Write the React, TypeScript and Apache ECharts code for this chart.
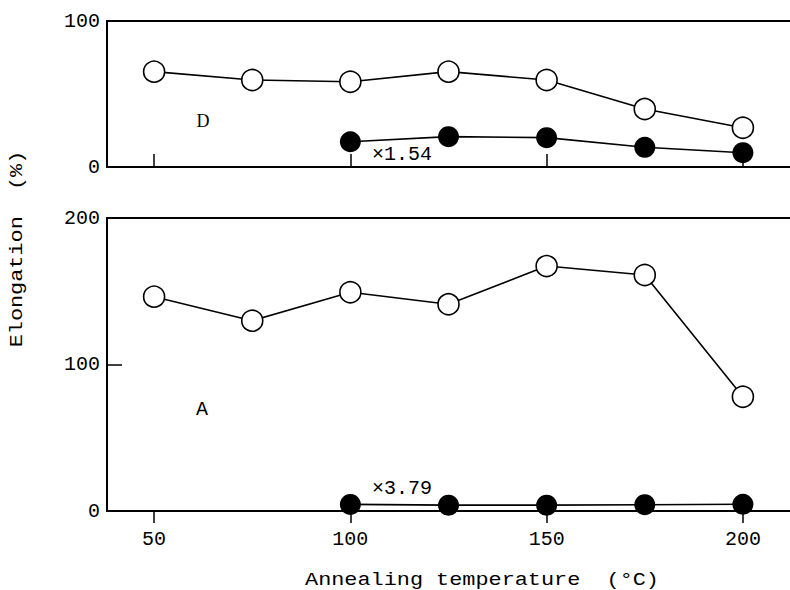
import React, { useEffect, useRef } from "react";
import * as echarts from "echarts";

const xValues = [50, 75, 100, 125, 150, 175, 200];
const dOpen = [65.3, 59.6, 58.4, 65.3, 59.6, 39.7, 26.9];
const filledX = [100, 125, 150, 175, 200];
const dFilled = [17.3, 20.8, 20.1, 13.5, 9.8];
const aOpen = [146.3, 129.9, 149.3, 141.1, 167.2, 161.1, 78];
const aFilled = [4.5, 4, 4, 4.3, 4.6];
const xTicks = [50, 100, 150, 200];

const MONO = "'Liberation Mono', 'DejaVu Sans Mono', monospace";

export default function App() {
  const ref = useRef<HTMLDivElement>(null);
  useEffect(() => {
    if (!ref.current) return;
    const chart = echarts.init(ref.current, null, { renderer: "svg" });
    const zip = (xs: number[], ys: number[]) => xs.map((x, i) => [x, ys[i]]);
    const lineStyle = { color: "#000", width: 2 };
    const baseX = {
      type: "value" as const,
      min: 38,
      max: 212,
      splitLine: { show: false },
    };
    const openSeries = (data: number[][], xi: number, yi: number) => ({
      type: "line",
      xAxisIndex: xi,
      yAxisIndex: yi,
      data,
      symbol: "circle",
      symbolSize: 21,
      itemStyle: { color: "#fff", borderColor: "#000", borderWidth: 1.6 },
      lineStyle: { color: "#000", width: 1.6 },
      z: 3,
    });
    const filledSeries = (data: number[][], xi: number, yi: number) => ({
      type: "line",
      xAxisIndex: xi,
      yAxisIndex: yi,
      data,
      symbol: "circle",
      symbolSize: 21,
      itemStyle: { color: "#000", borderColor: "#000", borderWidth: 0 },
      lineStyle: { color: "#000", width: 1.6 },
      z: 3,
    });
    const tickFont = { color: "#000", fontFamily: MONO, fontSize: 20 };
    chart.setOption({
      animation: false,
      backgroundColor: "#fff",
      grid: [
        { left: 107, right: 0, top: 21, height: 146 },
        { left: 107, right: 0, top: 218, height: 293 },
      ],
      xAxis: [
        {
          ...baseX,
          gridIndex: 0,
          position: "bottom",
          axisLine: { onZero: false, lineStyle },
          axisTick: { inside: true, length: 13, customValues: xTicks, lineStyle: { color: "#000", width: 1.5 } },
          axisLabel: { show: false },
        },
        {
          ...baseX,
          gridIndex: 0,
          position: "top",
          axisLine: { onZero: false, lineStyle },
          axisTick: { show: false },
          axisLabel: { show: false },
        },
        {
          ...baseX,
          gridIndex: 1,
          position: "bottom",
          axisLine: { onZero: false, lineStyle },
          axisTick: { inside: false, length: 12, customValues: xTicks, lineStyle: { color: "#000", width: 1.5 } },
          axisLabel: { customValues: xTicks, margin: 18, ...tickFont },
        },
        {
          ...baseX,
          gridIndex: 1,
          position: "top",
          axisLine: { onZero: false, lineStyle },
          axisTick: { show: false },
          axisLabel: { show: false },
        },
      ],
      yAxis: [
        {
          type: "value",
          gridIndex: 0,
          min: 0,
          max: 100,
          interval: 100,
          axisLine: { show: true, onZero: false, lineStyle },
          axisTick: { show: false },
          axisLabel: { margin: 7, ...tickFont },
          splitLine: { show: false },
        },
        {
          type: "value",
          gridIndex: 1,
          min: 0,
          max: 200,
          interval: 100,
          axisLine: { show: true, onZero: false, lineStyle },
          axisTick: { show: true, inside: true, length: 15, lineStyle: { color: "#000", width: 1.5 } },
          axisLabel: { margin: 7, ...tickFont },
          splitLine: { show: false },
        },
      ],
      series: [
        openSeries(zip(xValues, dOpen), 0, 0),
        filledSeries(zip(filledX, dFilled), 0, 0),
        openSeries(zip(xValues, aOpen), 2, 1),
        filledSeries(zip(filledX, aFilled), 2, 1),
      ],
      graphic: [
        {
          type: "text",
          x: 203,
          y: 121,
          style: { text: "D", fontFamily: "'Liberation Serif', serif", fontSize: 18, fill: "#000", align: "center", verticalAlign: "middle" },
        },
        {
          type: "text",
          x: 202,
          y: 409,
          style: { text: "A", fontFamily: MONO, fontSize: 20, fill: "#000", align: "center", verticalAlign: "middle" },
        },
        {
          type: "text",
          x: 372,
          y: 154,
          z: 10,
          style: { text: "×1.54", fontFamily: MONO, fontSize: 20, fill: "#000", align: "left", verticalAlign: "middle" },
        },
        {
          type: "text",
          x: 372,
          y: 488,
          z: 10,
          style: { text: "×3.79", fontFamily: MONO, fontSize: 20, fill: "#000", align: "left", verticalAlign: "middle" },
        },
        {
          type: "text",
          x: 482,
          y: 580,
          scaleX: 1.15,
          style: { text: "Annealing temperature  (°C)", fontFamily: MONO, fontSize: 19, fill: "#000", align: "center", verticalAlign: "middle" },
        },
        {
          type: "text",
          x: 17,
          y: 249,
          rotation: Math.PI / 2,
          scaleX: 1.15,
          style: { text: "Elongation  (%)", fontFamily: MONO, fontSize: 19, fill: "#000", align: "center", verticalAlign: "middle" },
        },
      ],
    });
    return () => chart.dispose();
  }, []);
  return <div ref={ref} style={{ position: "fixed", left: 0, top: 0, width: 790, height: 590 }} />;
}
